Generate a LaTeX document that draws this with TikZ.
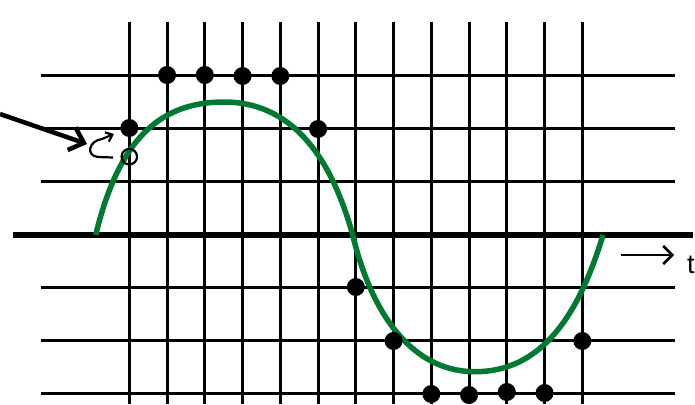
\documentclass[tikz,border=0pt]{standalone}
\usepackage{fontspec}
\setmainfont{Liberation Sans}
\usetikzlibrary{arrows.meta}
\definecolor{wavegreen}{RGB}{0,122,48}
\begin{document}
\begin{tikzpicture}[x={(1pt,0)},y={(0,-1pt)},
  gridline/.style={line width=3pt,black},
  axisline/.style={line width=5.5pt,black},
  wave/.style={line width=5.5pt,wavegreen},
  sample/.style={circle,fill=black,inner sep=0pt,minimum size=18pt},
  hollow/.style={circle,draw=black,line width=2.2pt,inner sep=0pt,minimum size=15.5pt},
  bigarrow/.style={line width=4.5pt,-{Straight Barb[length=13pt,width=24pt,line width=4.5pt]}},
  smallarrow/.style={line width=2.2pt,-{Straight Barb[length=6pt,width=10pt,line width=2.2pt]}}]
\useasboundingbox (0,0) rectangle (695,404);
% horizontal grid lines
\foreach \yy in {75,128,181,287,340,393}
  \draw[gridline] (41,\yy) -- (675,\yy);
% vertical grid lines
\foreach \i in {0,...,12}
  \draw[gridline] ({129.3+37.75*\i},22) -- ({129.3+37.75*\i},404);
% axis
\draw[axisline] (13,235) -- (693,235);
% wave
\coordinate (w0) at (95.7,235);
\coordinate (w1) at (224,102);
\coordinate (w2) at (352.7,235);
\coordinate (w3) at (475,371.7);
\coordinate (w4) at (603,235);
\draw[wave] (w0) .. controls (118.8,139.2) and (159.85,102) .. (w1)
  .. controls (288.35,102) and (329.5,151.2) .. (w2)
  .. controls (372.3,317) and (413.85,371.7) .. (w3)
  .. controls (539,371.7) and (577.4,319.75) .. (w4);
% samples
\node[sample] (s0) at (129.3,128) {};
\node[sample] (s1) at (167.05,75) {};
\node[sample] (s2) at (204.8,75) {};
\node[sample] (s3) at (242.55,76) {};
\node[sample] (s4) at (280.3,76) {};
\node[sample] (s5) at (318.05,129) {};
\node[sample] (s6) at (355.8,287) {};
\node[sample] (s7) at (393.55,341) {};
\node[sample] (s8) at (431.3,394) {};
\node[sample] (s9) at (469.05,395) {};
\node[sample] (s10) at (506.8,392) {};
\node[sample] (s11) at (544.55,393) {};
\node[sample] (s12) at (582.3,341) {};
\node[hollow] (h0) at (129.3,156.7) {};
% pointer arrow
\coordinate (pa) at (0,114);
\coordinate (pb) at (87,144);
\draw[bigarrow] (pa) -- (pb);
% small curled arrow
\coordinate (ca) at (113,157.5);
\coordinate (cb) at (114,134);
\draw[smallarrow] (ca) -- (98,157) .. controls (86,156) and (88,141) .. (102,139) -- (cb);
% time arrow
\coordinate (ta) at (621,255);
\coordinate (tb) at (674,255);
\draw[line width=2.5pt,-{Straight Barb[length=9pt,width=18pt,line width=2.5pt]}] (ta) -- (tb);
\node[anchor=base west,inner sep=0pt,font=\fontsize{27}{30}\selectfont] (tlab) at (687,273) {t};
\end{tikzpicture}
\end{document}
